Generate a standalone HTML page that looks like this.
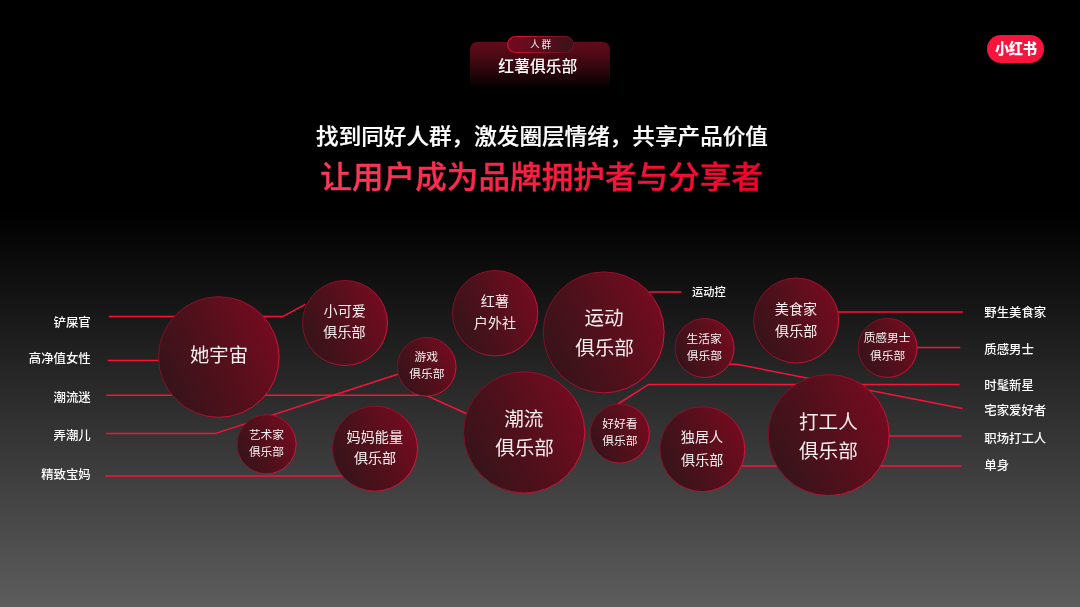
<!DOCTYPE html>
<html lang="zh-CN">
<head>
<meta charset="utf-8">
<title>红薯俱乐部</title>
<style>
html,body{margin:0;padding:0;background:#000;}
body{width:1080px;height:607px;overflow:hidden;position:relative;
 font-family:"Liberation Sans","Noto Sans CJK SC",sans-serif;color:#fff;}
.bg{position:absolute;left:0;top:0;width:1080px;height:607px;
 background:linear-gradient(to bottom,#000 0px,#000 212px,#5d5d5d 607px);}
svg.art{position:absolute;left:0;top:0;}
.layer{position:absolute;left:0;top:0;width:1080px;height:607px;will-change:transform;}
.t{position:absolute;white-space:nowrap;text-align:center;transform:translate(-50%,-50%);color:#f8eff0;font-weight:400;line-height:1.2;}
.ll{position:absolute;white-space:nowrap;font-size:12.4px;font-weight:500;line-height:16px;height:16px;color:#fff;}
.ll.l{right:989.3px;text-align:right;}
.ll.r{left:984.3px;}
.tag{position:absolute;left:469.8px;top:42.3px;width:140.4px;height:47px;border-radius:7px;
 background:linear-gradient(to bottom,#640a1b 0%,#4b0914 30%,#2a060c 62%,#0a0203 90%,#000 100%);}
.tagtxt{position:absolute;left:467.6px;top:55.7px;width:140.5px;text-align:center;font-size:15.8px;font-weight:500;line-height:22px;color:#fff;}
.pill{position:absolute;left:507px;top:35.5px;width:67px;height:17px;border-radius:9px;box-sizing:border-box;
 border:1px solid transparent;
 background:linear-gradient(100deg,#760a1f,#3b1219) padding-box,linear-gradient(115deg,#e0143a 0%,#c01030 35%,#7a1224 70%,#5a1420 100%) border-box;
 font-size:9.7px;line-height:15px;text-align:center;color:#f3e9ea;letter-spacing:1.8px;text-indent:1.8px;}
.h1{position:absolute;left:2px;width:1080px;top:120.6px;text-align:center;font-size:22.6px;font-weight:500;line-height:32px;color:#fff;transform:scaleY(0.965);-webkit-text-stroke:0.25px #fff;}
.h2{font-family:"Liberation Sans","Noto Sans CJK SC",sans-serif;}
.logo{position:absolute;left:987px;top:35px;width:57px;height:27.5px;border-radius:14px;background:#f7143d;
 text-align:center;font-size:15px;font-weight:900;line-height:27px;color:#fff;letter-spacing:-0.5px;}
.logo span{display:inline-block;transform:scaleX(0.95) translateY(0.3px);}
</style>
</head>
<body>
<div class="bg"></div>
<div class="layer">
<div class="tag"></div>
<div class="pill">人群</div>
<div class="tagtxt">红薯俱乐部</div>
<div class="logo"><span>小红书</span></div>
<div class="h1">找到同好人群，激发圈层情绪，共享产品价值</div>
<svg class="art" width="1080" height="607" viewBox="0 0 1080 607">
<defs>
<linearGradient id="cg" x1="0.02" y1="0.78" x2="1" y2="0.3">
<stop offset="0" stop-color="#34141a"/><stop offset="0.5" stop-color="#52101b"/><stop offset="1" stop-color="#760b20"/>
</linearGradient>
<linearGradient id="sg" x1="0" y1="0.25" x2="1" y2="0.75">
<stop offset="0" stop-color="#7a1024"/><stop offset="0.5" stop-color="#a31030"/><stop offset="1" stop-color="#e6143c"/>
</linearGradient>
<linearGradient id="hg" gradientUnits="userSpaceOnUse" x1="321" y1="0" x2="762" y2="0">
<stop offset="0" stop-color="#ff3a5c"/><stop offset="1" stop-color="#f3022b"/>
</linearGradient>
</defs>
<text class="h2" x="541.7" y="188.1" transform="translate(0 5.4) scale(1 0.97)" text-anchor="middle" font-size="31.65" font-weight="500" fill="url(#hg)" stroke="url(#hg)" stroke-width="0.35">让用户成为品牌拥护者与分享者</text>

<g fill="none" stroke="#fa103b" stroke-width="1.5">
<path d="M108.8 316.6 H282.7 L305.3 304.3"/>
<path d="M107.7 360.4 H170"/>
<path d="M106.4 395.2 H426 L467.2 414"/>
<path d="M106 433.6 H215 L397.8 374.3"/>
<path d="M105 476 H345"/>
<path d="M649 292 H681.4"/>
<path d="M617.8 404 L648.6 384.4 H959.5"/>
<path d="M728 364.2 H736.5 L962.4 408.4"/>
<path d="M830 311.9 H962.8"/>
<path d="M915 347.4 H960.3"/>
<path d="M880 435.9 H961.5"/>
<path d="M740 465.9 H961.5"/>
</g>
<g fill="url(#cg)" stroke="url(#sg)" stroke-width="0.95">
<circle cx="218.8" cy="357.0" r="60.3"/>
<circle cx="345.0" cy="323.0" r="42.5"/>
<circle cx="495.1" cy="313.2" r="42.7"/>
<circle cx="426.7" cy="366.8" r="29.3"/>
<circle cx="603.7" cy="332.4" r="60.5"/>
<circle cx="266.6" cy="444.3" r="29.5"/>
<circle cx="375.0" cy="448.6" r="42.5"/>
<circle cx="524.2" cy="432.4" r="60.6"/>
<circle cx="619.8" cy="433.5" r="29.5"/>
<circle cx="704.6" cy="348.0" r="29.5"/>
<circle cx="796.2" cy="320.5" r="42.5"/>
<circle cx="887.6" cy="347.9" r="29.5"/>
<circle cx="702.4" cy="449.2" r="42.4"/>
<circle cx="828.7" cy="435.1" r="60.5"/>
</g>
</svg>
<div class="t" id="c0a" style="left:219.00px;top:356.30px;font-size:19.3px">她宇宙</div>
<div class="t" id="c1a" style="left:344.71px;top:311.39px;font-size:14.1px">小可爱</div>
<div class="t" id="c1b" style="left:344.46px;top:332.45px;font-size:14.1px">俱乐部</div>
<div class="t" id="c2a" style="left:494.95px;top:301.25px;font-size:14.1px">红薯</div>
<div class="t" id="c2b" style="left:494.95px;top:322.75px;font-size:14.1px">户外社</div>
<div class="t" id="c3a" style="left:426.31px;top:357.35px;font-size:11.75px">游戏</div>
<div class="t" id="c3b" style="left:426.81px;top:374.30px;font-size:11.75px">俱乐部</div>
<div class="t" id="c4a" style="left:604.06px;top:319.44px;font-size:19.6px">运动</div>
<div class="t" id="c4b" style="left:604.56px;top:349.44px;font-size:19.6px">俱乐部</div>
<div class="t" id="c5a" style="left:266.50px;top:435.31px;font-size:11.75px">艺术家</div>
<div class="t" id="c5b" style="left:266.50px;top:451.50px;font-size:11.75px">俱乐部</div>
<div class="t" id="c6a" style="left:374.81px;top:436.61px;font-size:14.1px">妈妈能量</div>
<div class="t" id="c6b" style="left:375.06px;top:458.25px;font-size:14.1px">俱乐部</div>
<div class="t" id="c7a" style="left:523.81px;top:419.56px;font-size:19.6px">潮流</div>
<div class="t" id="c7b" style="left:524.56px;top:449.44px;font-size:19.6px">俱乐部</div>
<div class="t" id="c8a" style="left:619.85px;top:424.20px;font-size:11.75px">好好看</div>
<div class="t" id="c8b" style="left:619.85px;top:441.30px;font-size:11.75px">俱乐部</div>
<div class="t" id="c9a" style="left:704.05px;top:338.50px;font-size:11.75px">生活家</div>
<div class="t" id="c9b" style="left:704.30px;top:356.10px;font-size:11.75px">俱乐部</div>
<div class="t" id="c10a" style="left:795.95px;top:308.51px;font-size:14.1px">美食家</div>
<div class="t" id="c10b" style="left:796.20px;top:330.56px;font-size:14.1px">俱乐部</div>
<div class="t" id="c11a" style="left:887.13px;top:338.30px;font-size:11.75px">质感男士</div>
<div class="t" id="c11b" style="left:887.61px;top:355.69px;font-size:11.75px">俱乐部</div>
<div class="t" id="c12a" style="left:702.00px;top:437.46px;font-size:14.1px">独居人</div>
<div class="t" id="c12b" style="left:702.25px;top:459.56px;font-size:14.1px">俱乐部</div>
<div class="t" id="c13a" style="left:828.40px;top:422.69px;font-size:19.6px">打工人</div>
<div class="t" id="c13b" style="left:828.40px;top:452.13px;font-size:19.6px">俱乐部</div>
<div class="ll l" style="top:314.7px">铲屎官</div>
<div class="ll l" style="top:350.7px">高净值女性</div>
<div class="ll l" style="top:390.3px">潮流迷</div>
<div class="ll l" style="top:427.6px">弄潮儿</div>
<div class="ll l" style="top:467.0px">精致宝妈</div>
<div class="ll r" style="top:304.7px">野生美食家</div>
<div class="ll r" style="top:341.5px">质感男士</div>
<div class="ll r" style="top:377.5px">时髦新星</div>
<div class="ll r" style="top:403.40000000000003px">宅家爱好者</div>
<div class="ll r" style="top:430.90000000000003px">职场打工人</div>
<div class="ll r" style="top:458.0px">单身</div>
<div class="ll" style="left:692px;top:283.8px;font-size:11.2px">运动控</div>
</div>
</body>
</html>
